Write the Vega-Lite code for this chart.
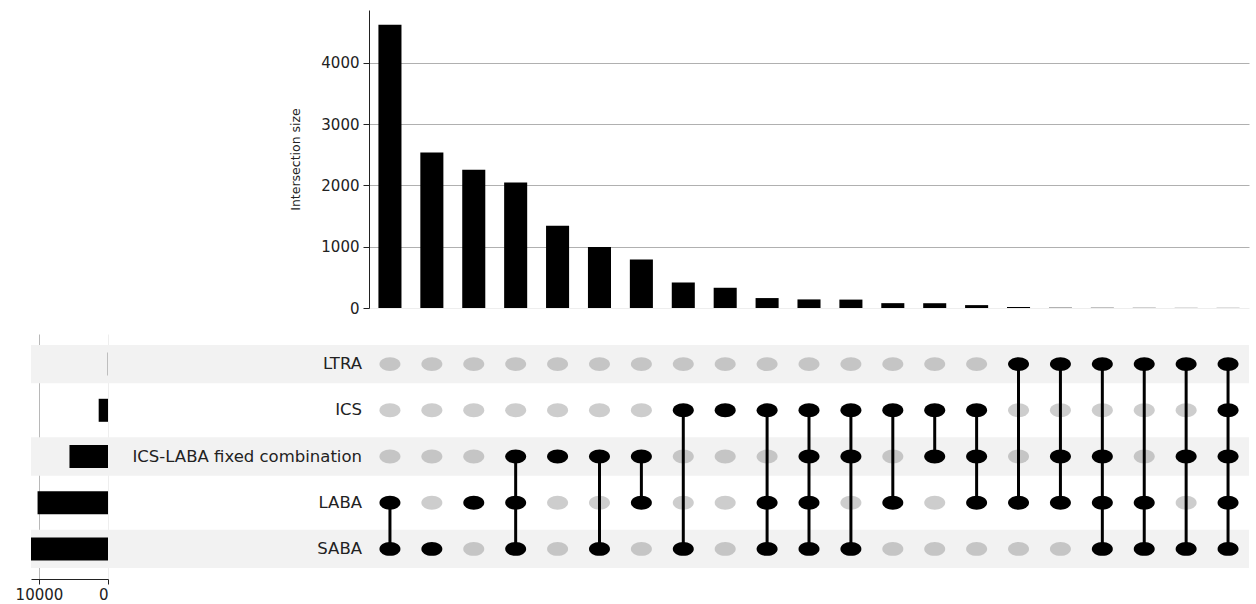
{
  "$schema": "https://vega.github.io/schema/vega-lite/v6.json",
  "padding": {"left": 15, "top": 10, "right": 5, "bottom": 2},
  "config": {
    "view": {"stroke": null},
    "font": "DejaVu Sans",
    "axis": {"labelFont": "DejaVu Sans", "titleFont": "DejaVu Sans", "labelColor": "#222", "titleColor": "#222"}
  },
  "datasets": {
    "inter": [
      {"id": 1, "size": 4620, "LTRA": 0, "ICS": 0, "ICS-LABA fixed combination": 0, "LABA": 1, "SABA": 1},
      {"id": 2, "size": 2537, "LTRA": 0, "ICS": 0, "ICS-LABA fixed combination": 0, "LABA": 0, "SABA": 1},
      {"id": 3, "size": 2254, "LTRA": 0, "ICS": 0, "ICS-LABA fixed combination": 0, "LABA": 1, "SABA": 0},
      {"id": 4, "size": 2047, "LTRA": 0, "ICS": 0, "ICS-LABA fixed combination": 1, "LABA": 1, "SABA": 1},
      {"id": 5, "size": 1341, "LTRA": 0, "ICS": 0, "ICS-LABA fixed combination": 1, "LABA": 0, "SABA": 0},
      {"id": 6, "size": 993, "LTRA": 0, "ICS": 0, "ICS-LABA fixed combination": 1, "LABA": 0, "SABA": 1},
      {"id": 7, "size": 792, "LTRA": 0, "ICS": 0, "ICS-LABA fixed combination": 1, "LABA": 1, "SABA": 0},
      {"id": 8, "size": 416, "LTRA": 0, "ICS": 1, "ICS-LABA fixed combination": 0, "LABA": 0, "SABA": 1},
      {"id": 9, "size": 330, "LTRA": 0, "ICS": 1, "ICS-LABA fixed combination": 0, "LABA": 0, "SABA": 0},
      {"id": 10, "size": 162, "LTRA": 0, "ICS": 1, "ICS-LABA fixed combination": 0, "LABA": 1, "SABA": 1},
      {"id": 11, "size": 140, "LTRA": 0, "ICS": 1, "ICS-LABA fixed combination": 1, "LABA": 1, "SABA": 1},
      {"id": 12, "size": 137, "LTRA": 0, "ICS": 1, "ICS-LABA fixed combination": 1, "LABA": 0, "SABA": 1},
      {"id": 13, "size": 79, "LTRA": 0, "ICS": 1, "ICS-LABA fixed combination": 0, "LABA": 1, "SABA": 0},
      {"id": 14, "size": 78, "LTRA": 0, "ICS": 1, "ICS-LABA fixed combination": 1, "LABA": 0, "SABA": 0},
      {"id": 15, "size": 47, "LTRA": 0, "ICS": 1, "ICS-LABA fixed combination": 1, "LABA": 1, "SABA": 0},
      {"id": 16, "size": 16, "LTRA": 1, "ICS": 0, "ICS-LABA fixed combination": 0, "LABA": 1, "SABA": 0},
      {"id": 17, "size": 5, "LTRA": 1, "ICS": 0, "ICS-LABA fixed combination": 1, "LABA": 1, "SABA": 0},
      {"id": 18, "size": 4, "LTRA": 1, "ICS": 0, "ICS-LABA fixed combination": 1, "LABA": 1, "SABA": 1},
      {"id": 19, "size": 3, "LTRA": 1, "ICS": 0, "ICS-LABA fixed combination": 0, "LABA": 1, "SABA": 1},
      {"id": 20, "size": 2, "LTRA": 1, "ICS": 0, "ICS-LABA fixed combination": 1, "LABA": 0, "SABA": 1},
      {"id": 21, "size": 2, "LTRA": 1, "ICS": 1, "ICS-LABA fixed combination": 1, "LABA": 1, "SABA": 1}
    ],
    "sets": [
      {"set": "LTRA", "size": 30},
      {"set": "ICS", "size": 1350},
      {"set": "ICS-LABA fixed combination", "size": 5580},
      {"set": "LABA", "size": 10200},
      {"set": "SABA", "size": 11150}
    ]
  },
  "resolve": {"scale": {"x": "independent", "y": "independent"}, "axis": {"x": "independent", "y": "independent"}},
  "columns": 3,
  "spacing": {"row": 26, "column": 0},
  "bounds": "flush",
  "align": "each",
  "concat": [
    {
      "width": 77, "height": 298,
      "data": {"values": [{}]},
      "mark": {"type": "rect", "opacity": 0},
      "encoding": {}
    },
    {
      "width": 261, "height": 298,
      "data": {"values": [{}]},
      "mark": {"type": "rect", "opacity": 0},
      "encoding": {}
    },
    {
      "width": 880, "height": 298,
      "data": {"name": "inter"},
      "mark": {"type": "bar", "color": "black"},
      "encoding": {
        "x": {"field": "id", "type": "ordinal", "sort": "ascending", "axis": null,
              "scale": {"paddingInner": 0.45, "paddingOuter": 0.225}},
        "y": {"field": "size", "type": "quantitative",
              "scale": {"domain": [0, 4860], "nice": false},
              "axis": {"values": [0, 1000, 2000, 3000, 4000], "format": "d", "title": "Intersection size",
                       "titleFontSize": 12.5, "titleFontWeight": "normal", "titlePadding": 18,
                       "labelFontSize": 15, "labelPadding": 4, "tickSize": 6, "tickColor": "#222",
                       "domainColor": "#222", "grid": true,
                       "gridColor": {"condition": {"test": "datum.value === 0", "value": "#eeeeee"}, "value": "#b0b0b0"}}}
      }
    },
    {
      "width": 77, "height": 245,
      "data": {"name": "sets"},
      "layer": [
        {
          "transform": [{"filter": {"field": "set", "oneOf": ["LTRA", "ICS-LABA fixed combination", "SABA"]}}],
          "mark": {"type": "rect", "color": "#f2f2f2"},
          "encoding": {
            "y": {"field": "set", "type": "nominal", "axis": null,
                  "scale": {"domain": ["LTRA", "ICS", "ICS-LABA fixed combination", "LABA", "SABA"], "paddingInner": 0.17, "paddingOuter": 0.236}}
          }
        },
        {
          "mark": {"type": "bar", "color": "black", "height": {"band": 0.6}},
          "encoding": {
            "y": {"field": "set", "type": "nominal", "axis": null,
                  "scale": {"domain": ["LTRA", "ICS", "ICS-LABA fixed combination", "LABA", "SABA"], "paddingInner": 0.17, "paddingOuter": 0.236}},
            "x": {"field": "size", "type": "quantitative",
                  "scale": {"domain": [0, 11150], "nice": false, "reverse": true},
                  "axis": {"values": [0, 10000], "format": "d", "title": null, "labelFontSize": 15, "labelPadding": 3,
                           "tickSize": 5, "tickColor": "#222", "domainColor": "#222", "grid": true,
                           "gridColor": {"condition": {"test": "datum.value === 0", "value": "#eeeeee"}, "value": "#b8b8b8"}}}
          }
        }
      ]
    },
    {
      "width": 261, "height": 245,
      "data": {"name": "sets"},
      "layer": [
        {
          "transform": [{"filter": {"field": "set", "oneOf": ["LTRA", "ICS-LABA fixed combination", "SABA"]}}],
          "mark": {"type": "rect", "color": "#f2f2f2"},
          "encoding": {
            "y": {"field": "set", "type": "nominal", "axis": null,
                  "scale": {"domain": ["LTRA", "ICS", "ICS-LABA fixed combination", "LABA", "SABA"], "paddingInner": 0.17, "paddingOuter": 0.236}}
          }
        },
        {
          "mark": {"type": "text", "align": "right", "baseline": "middle", "dx": -7, "fontSize": 16.5, "color": "#222", "font": "DejaVu Sans"},
          "encoding": {
            "y": {"field": "set", "type": "nominal", "axis": null,
                  "scale": {"domain": ["LTRA", "ICS", "ICS-LABA fixed combination", "LABA", "SABA"], "paddingInner": 0.17, "paddingOuter": 0.236}},
            "x": {"datum": 1, "type": "quantitative", "scale": {"domain": [0, 1]}, "axis": null},
            "text": {"field": "set"}
          }
        }
      ]
    },
    {
      "width": 880, "height": 245,
      "layer": [
        {
          "data": {"name": "sets"},
          "transform": [{"filter": {"field": "set", "oneOf": ["LTRA", "ICS-LABA fixed combination", "SABA"]}}],
          "mark": {"type": "rect", "color": "#f2f2f2"},
          "encoding": {
            "y": {"field": "set", "type": "nominal", "axis": null,
                  "scale": {"domain": ["LTRA", "ICS", "ICS-LABA fixed combination", "LABA", "SABA"], "paddingInner": 0.17, "paddingOuter": 0.236}}
          }
        },
        {
          "data": {"name": "inter"},
          "transform": [{"fold": ["LTRA", "ICS", "ICS-LABA fixed combination", "LABA", "SABA"], "as": ["set", "member"]},
                        {"filter": "datum.member == 0"}],
          "mark": {"type": "point", "filled": true, "color": "#888888", "opacity": 0.42,
                   "shape": "M -1 0 A 1 0.66 0 1 0 1 0 A 1 0.66 0 1 0 -1 0 Z", "size": 441},
          "encoding": {
            "x": {"field": "id", "type": "ordinal", "sort": "ascending", "axis": null,
                  "scale": {"paddingInner": 0.45, "paddingOuter": 0.225}},
            "y": {"field": "set", "type": "nominal", "axis": null}
          }
        },
        {
          "data": {"name": "inter"},
          "transform": [{"fold": ["LTRA", "ICS", "ICS-LABA fixed combination", "LABA", "SABA"], "as": ["set", "member"]},
                        {"filter": "datum.member == 1"}],
          "mark": {"type": "line", "color": "black", "strokeWidth": 3},
          "encoding": {
            "x": {"field": "id", "type": "ordinal", "sort": "ascending", "axis": null},
            "y": {"field": "set", "type": "nominal", "axis": null},
            "detail": {"field": "id", "type": "nominal"}
          }
        },
        {
          "data": {"name": "inter"},
          "transform": [{"fold": ["LTRA", "ICS", "ICS-LABA fixed combination", "LABA", "SABA"], "as": ["set", "member"]},
                        {"filter": "datum.member == 1"}],
          "mark": {"type": "point", "filled": true, "color": "black", "opacity": 1,
                   "shape": "M -1 0 A 1 0.66 0 1 0 1 0 A 1 0.66 0 1 0 -1 0 Z", "size": 441},
          "encoding": {
            "x": {"field": "id", "type": "ordinal", "sort": "ascending", "axis": null},
            "y": {"field": "set", "type": "nominal", "axis": null}
          }
        }
      ],
      "resolve": {"scale": {"x": "shared", "y": "shared"}}
    }
  ]
}
